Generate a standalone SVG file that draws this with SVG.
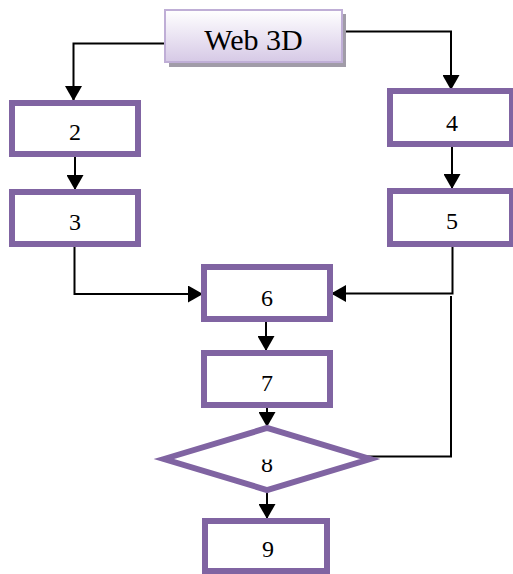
<svg xmlns="http://www.w3.org/2000/svg" width="513" height="574" viewBox="0 0 513 574">
<style>
.box{fill:#ffffff;stroke:#8064a2;stroke-width:6}
.lbl{font-family:"Liberation Serif","Times New Roman",serif;font-size:24px;fill:#000;text-anchor:middle}
.con{fill:none;stroke:#000;stroke-width:2}
</style>
<defs>
<linearGradient id="g" x1="0" y1="0" x2="0" y2="1">
<stop offset="0" stop-color="#ffffff"/>
<stop offset="1" stop-color="#d6c9e6"/>
</linearGradient>
<marker id="a" markerUnits="userSpaceOnUse" markerWidth="15" markerHeight="17" viewBox="0 0 15 17" refX="14" refY="8.5" orient="auto">
<path d="M0,0 L15,8.5 L0,17 z" fill="#000"/>
</marker>
<clipPath id="c8"><rect x="240" y="459.5" width="60" height="30"/></clipPath>
</defs>
<g id="connectors">
<path class="con" d="M165,43.5 H73.5 V100" marker-end="url(#a)"/>
<path class="con" d="M343,31.5 H451 V89" marker-end="url(#a)"/>
<path class="con" d="M75,157 V189" marker-end="url(#a)"/>
<path class="con" d="M452,147 V188" marker-end="url(#a)"/>
<path class="con" d="M74.5,246 V294 H202" marker-end="url(#a)"/>
<path class="con" d="M452.5,244 V293.5 H332" marker-end="url(#a)"/>
<path class="con" d="M451,296 V456.5 H367.5 V460"/>
<path class="con" d="M266,322 V350" marker-end="url(#a)"/>
<path class="con" d="M267,408 V426" marker-end="url(#a)"/>
<path class="con" d="M267,492 V518" marker-end="url(#a)"/>
</g>
<g id="n1">
<rect x="169" y="14" width="177" height="53" fill="#a19ca8"/>
<rect x="165" y="10" width="177" height="52" fill="url(#g)" stroke="#bfaed6" stroke-width="2"/>
<text x="253.5" y="50" font-family="'Liberation Serif','Times New Roman',serif" font-size="30" text-anchor="middle" fill="#000">Web 3D</text>
</g>
<g id="n2"><rect class="box" x="12" y="103" width="126" height="51"/><text class="lbl" x="75" y="140">2</text></g>
<g id="n3"><rect class="box" x="12" y="192" width="126" height="52"/><text class="lbl" x="75" y="230">3</text></g>
<g id="n4"><rect class="box" x="390" y="91" width="122" height="53"/><text class="lbl" x="452" y="131">4</text></g>
<g id="n5"><rect class="box" x="390" y="191" width="122" height="53"/><text class="lbl" x="452" y="228.5">5</text></g>
<g id="n6"><rect class="box" x="204" y="267" width="126" height="52"/><text class="lbl" x="267" y="305.5">6</text></g>
<g id="n7"><rect class="box" x="204" y="353" width="126" height="52"/><text class="lbl" x="267" y="391">7</text></g>
<g id="n8"><path class="box" d="M164,459 L267,428 L370,459 L267,490 Z"/><text class="lbl" x="267" y="472" clip-path="url(#c8)">8</text></g>
<g id="n9"><rect class="box" x="205" y="521" width="122" height="50"/><text class="lbl" x="268" y="556.5">9</text></g>
</svg>
